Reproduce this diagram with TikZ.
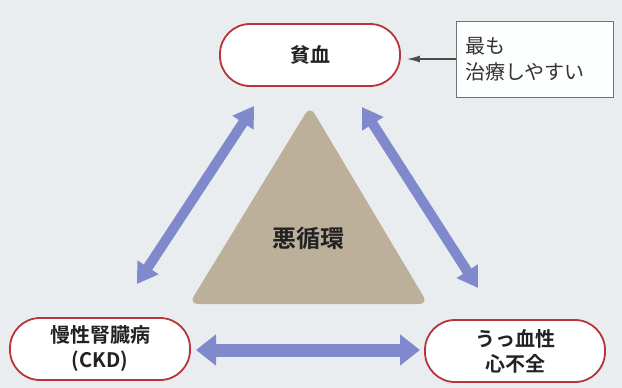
\documentclass[tikz,border=0pt]{standalone}
\usepackage{fontspec}
\setmainfont{Noto Sans CJK JP}[BoldFont={Noto Sans CJK JP Bold}]
\usetikzlibrary{arrows.meta}
\definecolor{bgc}{HTML}{EAEDF0}
\definecolor{pillred}{HTML}{B8333A}
\definecolor{arrblue}{HTML}{7F89CB}
\definecolor{tan}{HTML}{BDB09A}
\definecolor{txt}{HTML}{222222}
\tikzset{
  pill/.style={draw=pillred, line width=1.8pt, fill=white, rounded corners=30pt,
    minimum width=180pt, minimum height=62pt, align=center, font=\fontsize{20}{25}\selectfont\bfseries, text=txt, inner sep=0pt},
  bigarrow/.style={arrblue, line width=10pt, {Triangle[width=24pt,length=20pt]}-{Triangle[width=24pt,length=20pt]}},
  hbigarrow/.style={arrblue, line width=13pt, {Triangle[width=30pt,length=20pt]}-{Triangle[width=30pt,length=20pt]}},
  callout/.style={draw=black!55, line width=1pt, fill=white!92!bgc, minimum width=157pt, minimum height=76pt,
    align=left, font=\fontsize{20}{26}\selectfont, text=black!80, inner sep=0pt, text width=139pt}
}
\begin{document}
\begin{tikzpicture}[x=1pt,y=-1pt]
\fill[bgc] (0,0) rectangle (622,388);
\useasboundingbox (0,0) rectangle (622,388);
% triangle
\fill[tan, rounded corners=9pt] (310,106) -- (428,304) -- (189,304) -- cycle;
\node[font=\fontsize{24}{28}\selectfont\bfseries, text=txt] (vc) at (308,238) {悪循環};
% pills
\node[pill] (anemia) at (310,55) {貧血};
\node[pill] (ckd) at (100,349) {慢性腎臓病\\(CKD)};
\node[pill] (chf) at (515,351) {うっ血性\\心不全};
% callout
\node[callout] (note) at (534.5,59) {最も\\治療しやすい};
\draw[black!70, line width=1.3pt, -{Latex[length=13pt,width=7pt]}] (note.west) -- ([xshift=6pt]anemia.east |- note.west);
% big arrows
\coordinate (a1) at (254,106);
\coordinate (c1) at (137,284);
\coordinate (a2) at (362,107);
\coordinate (h1) at (478,288);
\coordinate (c2) at (196,350);
\coordinate (h2) at (420,350);
\draw[bigarrow] (a1) -- (c1);
\draw[bigarrow] (a2) -- (h1);
\draw[hbigarrow] (c2) -- (h2);
\end{tikzpicture}
\end{document}
